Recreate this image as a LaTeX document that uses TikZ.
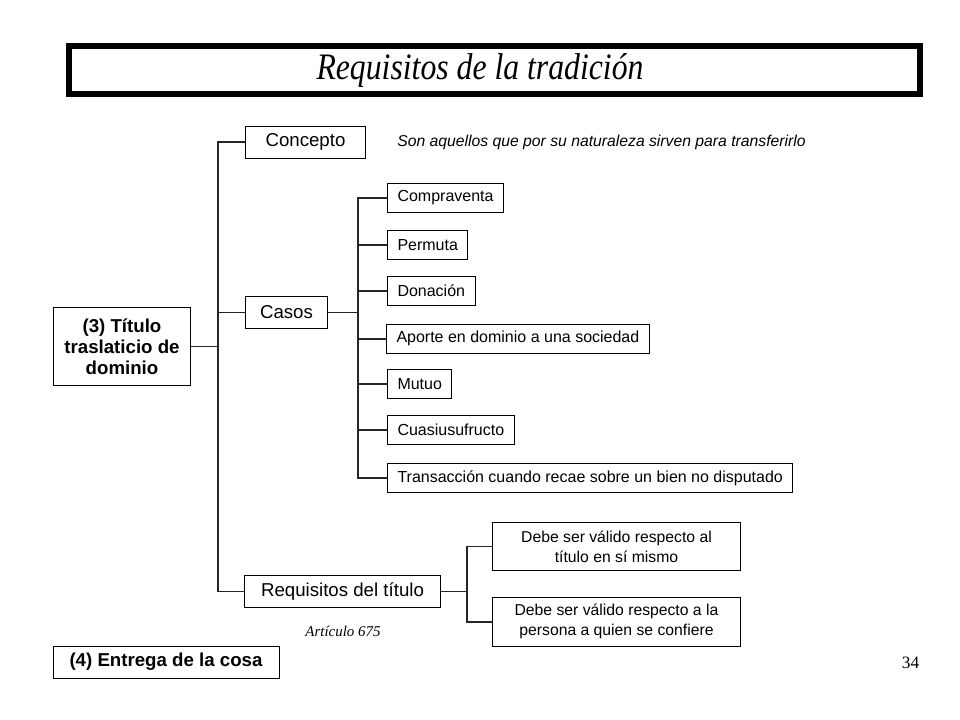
\documentclass[tikz,border=0pt]{standalone}
\usepackage{fontspec}
\setmainfont{Liberation Sans}
\newfontfamily\romana{Liberation Serif}
\newfontfamily\romanaestrecha[FakeStretch=0.85]{Liberation Serif}
\usetikzlibrary{positioning}

\tikzset{
  caja/.style={draw, line width=0.75pt, inner sep=0pt, minimum height=24pt, font=\fontsize{14}{16}\selectfont},
  cajanegrita/.style={caja, align=center, font=\fontsize{14}{15.75}\selectfont\bfseries},
  subcaja/.style={draw, line width=0.75pt, anchor=west, inner xsep=7.5pt, inner ysep=0pt, minimum height=21.75pt, font=\fontsize{12}{14}\selectfont},
  debecaja/.style={draw, line width=0.75pt, inner sep=0pt, align=center, minimum width=185.5pt, minimum height=36.5pt, font=\fontsize{11.8}{15}\selectfont},
  rama/.style={line width=1.1pt, draw=black!85},
}

\begin{document}
\begin{tikzpicture}[x=0.75pt,y=-0.75pt]
  \useasboundingbox (0,0) rectangle (960,720);
  % titulo
  \draw[line width=4.5pt] (69,46) rectangle (920,94);
  \node[font=\romanaestrecha\itshape\fontsize{28}{30}\selectfont] (encabezado) at (480,71) {Requisitos de la tradición};

  % primer nivel
  \node[cajanegrita, minimum width=103pt, minimum height=58.5pt] (titulo) at (122,346.3) {(3) Título\\traslaticio de\\dominio};
  \node[caja, anchor=west, minimum width=90pt] (concepto) at (245,142.2) {Concepto};
  \node[caja, anchor=west, minimum width=61.5pt] (casos) at (245,312.5) {Casos};
  \node[caja, anchor=west, minimum width=147pt, minimum height=23.6pt] (requisitos) at (244,591.3) {Requisitos del título};
  \node[anchor=west, inner sep=0pt, font=\itshape\fontsize{11.8}{14}\selectfont] (definicion) at (397,142.2) {Son aquellos que por su naturaleza sirven para transferirlo};

  \draw[rama] (titulo.east) -- ++(27,0) |- (concepto.west);
  \draw[rama] (titulo.east) -- ++(27,0) |- (casos.west);
  \draw[rama] (titulo.east) -- ++(27,0) |- (requisitos.west);

  % casos
  \node[subcaja] (compraventa) at (387,197.8) {Compraventa};
  \node[subcaja] (permuta) at (387,245) {Permuta};
  \node[subcaja] (donacion) at (387,291) {Donación};
  \node[subcaja] (aporte) at (386,338.8) {Aporte en dominio a una sociedad};
  \node[subcaja] (mutuo) at (387,384) {Mutuo};
  \node[subcaja] (cuasi) at (387,430) {Cuasiusufructo};
  \node[subcaja] (transaccion) at (387,478) {Transacción cuando recae sobre un bien no disputado};
  \foreach \c in {compraventa,permuta,donacion,aporte,mutuo,cuasi,transaccion}
    \draw[rama] (casos.east) -- ++(30,0) |- (\c.west);

  % requisitos del titulo
  \node[debecaja] (debeA) at (616.5,546.6) {Debe ser válido respecto al\\título en sí mismo};
  \node[debecaja] (debeB) at (616.5,621.8) {Debe ser válido respecto a la\\persona a quien se confiere};
  \draw[rama] (requisitos.east) -- ++(26,0) |- (debeA.west);
  \draw[rama] (requisitos.east) -- ++(26,0) |- (debeB.west);
  \node[font=\romana\itshape\fontsize{11.2}{13}\selectfont] (articulo) at (343,631) {Artículo 675};

  % entrega
  \node[cajanegrita, minimum width=169.5pt] (entrega) at (166,662) {(4) Entrega de la cosa};
  \node[font=\romana\fontsize{13}{15}\selectfont] (pagina) at (910.5,663) {34};
\end{tikzpicture}
\end{document}
